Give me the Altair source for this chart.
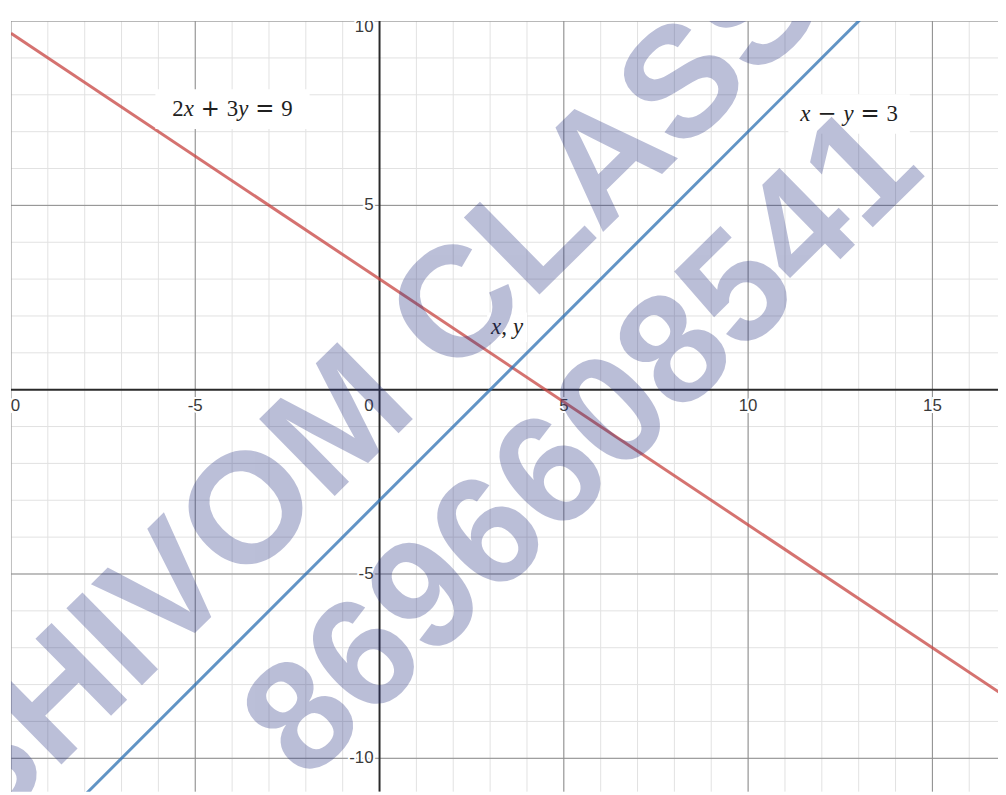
import altair as alt
import pandas as pd

# ---------------- data ----------------
x_grid_minor = list(range(-10, 17))
y_grid_minor = list(range(-10, 11))
x_grid_major = [-10, -5, 5, 10, 15]
y_grid_major = [-10, -5, 5, 10]
axis_zero = [0]

x_tick_values = [-5, 5, 10, 15]
x_tick_labels = ["-5", "5", "10", "15"]
x_edge_tick_value = [-10]
x_edge_tick_label = ["-10"]
y_tick_values = [5, -5, -10]
y_tick_labels = ["5", "-5", "-10"]
y_top_tick_value = [10]
y_top_tick_label = ["10"]
origin_value = [0]
origin_label = ["0"]

# line end points (2x + 3y = 9 and x - y = 3)
red_x = [-10, 17]
red_y = [9.667, -8.333]
blue_x = [-8, 14]
blue_y = [-11, 11]

# equation labels: anchor and tokens (text, kind) kind: v = italic variable, n = number, o = operator, p = punctuation
label_x = [-3.99, 12.74, 3.46]
label_y = [7.61, 7.48, 1.69]
label_tokens = [
    [("2", "n"), ("x", "v"), ("+", "o"), ("3", "n"), ("y", "v"), ("=", "o"), ("9", "n")],
    [("x", "v"), ("\u2212", "o"), ("y", "v"), ("=", "o"), ("3", "n")],
    [("x", "v"), (",", "p"), ("y", "v")],
]

# watermark
wm_text = ["SHIVOM CLASSES", "8696608541"]
wm_x = [1.82, 5.56]
wm_y = [1.88, -1.51]

# ---------------- styles ----------------
W, H = 995, 777
X = alt.Scale(domain=[-10, 16.78], nice=False, zero=False)
Y = alt.Scale(domain=[-10.91, 10], nice=False, zero=False)
LABEL_FS = 23
OP_PAD = 7
PUNCT_PAD = 6
box_pad = [34, 24, 8]
box_h = [40, 40, 30]
adv = {"2": .5, "3": .5, "9": .5, "+": .838, "=": .838, "\u2212": .838, ",": .25, "x": .444, "y": .444}


def xq(f="x"):
    return alt.X(f, type="quantitative", scale=X, axis=None)


def yq(f="y"):
    return alt.Y(f, type="quantitative", scale=Y, axis=None)


layers = []

# grid
layers.append(alt.Chart(pd.DataFrame({"x": x_grid_minor})).mark_rule(color="#e2e2e2", strokeWidth=1, clip=True).encode(x=xq()))
layers.append(alt.Chart(pd.DataFrame({"y": y_grid_minor})).mark_rule(color="#e2e2e2", strokeWidth=1, clip=True).encode(y=yq()))
layers.append(alt.Chart(pd.DataFrame({"x": x_grid_major})).mark_rule(color="#8c8c8c", strokeWidth=1, clip=True).encode(x=xq()))
layers.append(alt.Chart(pd.DataFrame({"y": y_grid_major})).mark_rule(color="#8c8c8c", strokeWidth=1, clip=True).encode(y=yq()))
layers.append(alt.Chart(pd.DataFrame({"x": axis_zero})).mark_rule(color="#2b2b2b", strokeWidth=2, clip=True).encode(x=xq()))
layers.append(alt.Chart(pd.DataFrame({"y": axis_zero})).mark_rule(color="#2b2b2b", strokeWidth=2, clip=True).encode(y=yq()))

# tick labels (white halo + text)
tick_font = dict(font="Liberation Sans", fontSize=17, clip=True)
xt = pd.DataFrame({"x": x_tick_values, "y": [0] * len(x_tick_values), "t": x_tick_labels})
xe = pd.DataFrame({"x": x_edge_tick_value, "y": [0], "t": x_edge_tick_label})
yt = pd.DataFrame({"x": [0] * len(y_tick_values), "y": y_tick_values, "t": y_tick_labels})
ytt = pd.DataFrame({"x": [0], "y": y_top_tick_value, "t": y_top_tick_label})
ot = pd.DataFrame({"x": origin_value, "y": origin_value, "t": origin_label})
for df, kw in [(xt, dict(align="center", baseline="middle", dy=16)),
               (xe, dict(align="center", baseline="middle", dy=16, dx=-3)),
               (yt, dict(align="right", baseline="middle", dx=-6)),
               (ytt, dict(align="right", baseline="middle", dx=-6, dy=6)),
               (ot, dict(align="right", baseline="middle", dx=-6, dy=16))]:
    layers.append(alt.Chart(df).mark_text(color="white", stroke="white", strokeWidth=4, **kw, **tick_font)
                  .encode(x=xq(), y=yq(), text="t:N"))
    layers.append(alt.Chart(df).mark_text(color="#3a3a3a", **kw, **tick_font)
                  .encode(x=xq(), y=yq(), text="t:N"))

# the two lines
layers.append(alt.Chart(pd.DataFrame({"x": red_x, "y": red_y})).mark_line(color="#c74440", strokeWidth=3, opacity=0.75, clip=True)
              .encode(x=xq(), y=yq()))
layers.append(alt.Chart(pd.DataFrame({"x": blue_x, "y": blue_y})).mark_line(color="#2d70b3", strokeWidth=3, opacity=0.75, clip=True)
              .encode(x=xq(), y=yq()))


# equation labels with white boxes (math-style typesetting)
def layout(tokens):
    pos, out = 0.0, []
    for t, kind in tokens:
        if kind == "o":
            pos += OP_PAD
        out.append((t, kind, pos))
        pos += adv.get(t, .5) * LABEL_FS
        if kind == "o":
            pos += OP_PAD
        elif kind == "p":
            pos += PUNCT_PAD
    return out, pos


for i, toks in enumerate(label_tokens):
    anchor = pd.DataFrame({"x": [label_x[i]], "y": [label_y[i]]})
    placed, total = layout(toks)
    layers.append(alt.Chart(anchor).mark_rect(color="white", width=total + box_pad[i], height=box_h[i], clip=True)
                  .encode(x=xq(), y=yq()))
    for t, kind, p in placed:
        layers.append(alt.Chart(anchor.assign(t=t)).mark_text(
            align="left", baseline="middle", dx=p - total / 2,
            font="DejaVu Sans" if kind == "o" else "Liberation Serif", fontSize=LABEL_FS,
            fontStyle="italic" if kind == "v" else "normal",
            color="#222222", clip=True).encode(x=xq(), y=yq(), text="t:N"))

# watermark
layers.append(alt.Chart(pd.DataFrame({"x": wm_x, "y": wm_y, "t": wm_text}))
              .mark_text(font="Liberation Sans", fontWeight="bold", fontSize=158, angle=315.5,
                         color="#253080", opacity=0.31, align="center", baseline="middle", clip=True)
              .encode(x=xq(), y=yq(), text="t:N"))

chart = alt.layer(*layers).properties(
    width=W, height=H,
    padding={"left": 3, "top": 10, "right": 0, "bottom": 0},
    autosize=alt.AutoSizeParams(type="none"),
    background="white",
).configure_view(stroke=None)

chart.save("out.html", embed_options={"renderer": "svg", "actions": False})
